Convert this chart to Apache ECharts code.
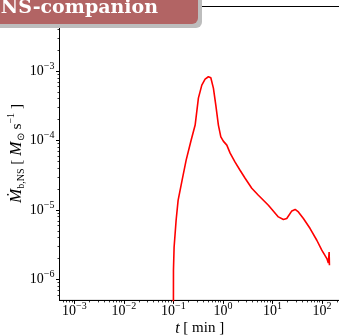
<!DOCTYPE html>
<html>
<head>
<meta charset="utf-8">
<script src="https://cdn.jsdelivr.net/npm/echarts@6/dist/echarts.min.js"></script>
<style>
  html, body { margin: 0; padding: 0; background: #fff; }
  #chart { width: 339px; height: 336px; }
</style>
</head>
<body>
<div id="chart"></div>
<script>
// time in minutes, accretion rate in Msun/s
const times = [0.1, 0.1003, 0.1033, 0.1135, 0.1245, 0.150, 0.181, 0.228, 0.275, 0.320, 0.375,
  0.437, 0.509, 0.570, 0.643, 0.719, 0.811, 0.908, 1.02, 1.20, 1.40, 1.75, 2.22, 2.81,
  3.83, 5.21, 8.30, 13.2, 16.7, 19.5, 24.7, 28.8, 33.5, 42.3, 57.8, 78.9, 99.5, 126,
  135, 140, 142]
const rates = [2e-7, 1.36e-6, 2.91e-6, 7.13e-6, 1.38e-5, 2.69e-5, 5.22e-5, 1.01e-4, 1.67e-4,
  4.08e-4, 6.28e-4, 7.67e-4, 8.28e-4, 8.0e-4, 5.69e-4, 3.24e-4, 1.67e-4, 1.13e-4, 9.8e-5,
  8.59e-5, 6.58e-5, 4.93e-5, 3.74e-5, 2.87e-5, 2.06e-5, 1.63e-5, 1.17e-5, 7.96e-6, 7.30e-6,
  7.55e-6, 9.71e-6, 1.02e-5, 9.39e-6, 7.55e-6, 5.41e-6, 3.67e-6, 2.64e-6, 2.0e-6, 1.73e-6,
  2.49e-6, 1.60e-6]

const xExps = [-3, -2, -1, 0, 1, 2]
const yExps = [-6, -5, -4, -3]
const xRange = [5e-4, 230]
const yRange = [5e-7, 8.5e-3]

const minorTicks = (exps, range) => {
  const out = []
  for (let e = exps[0] - 1; e <= exps[exps.length - 1]; e++) {
    for (let k = 2; k <= 9; k++) {
      const v = k * Math.pow(10, e)
      if (v > range[0] && v < range[1]) out.push(v)
    }
  }
  return out
}

const serif = 'Liberation Serif'
const supLabel = (v) => '{b|10}{sup|' + String(Math.round(Math.log10(v))).replace('-', '\u2212') + '}'
const labelRich = {
  b: { fontSize: 14, lineHeight: 20, verticalAlign: 'middle', fontFamily: serif, color: '#000' },
  sup: { fontSize: 10, lineHeight: 10, verticalAlign: 'top', fontFamily: serif, color: '#000' },
}

const majorAxis = (exps, range) => ({
  type: 'log',
  min: range[0],
  max: range[1],
  axisLine: { show: true, onZero: false, lineStyle: { color: '#000', width: 1 } },
  axisTick: { show: true, inside: false, length: 3.5, customValues: exps.map((e) => Math.pow(10, e)), lineStyle: { color: '#000', width: 1 } },
  axisLabel: {
    customValues: exps.map((e) => Math.pow(10, e)),
    formatter: supLabel,
    fontFamily: serif,
    fontSize: 14,
    lineHeight: 20,
    color: '#000',
    rich: labelRich,
  },
  splitLine: { show: false },
  minorTick: { show: false },
})

const minorAxis = (exps, range, position) => ({
  type: 'log',
  min: range[0],
  max: range[1],
  position,
  axisLine: { show: false, onZero: false },
  axisTick: { show: true, length: 2, customValues: minorTicks(exps, range), lineStyle: { color: '#000', width: 0.8 } },
  axisLabel: { show: false },
  splitLine: { show: false },
})

const chart = echarts.init(document.getElementById('chart'), null, { renderer: 'canvas' })

const xMain = majorAxis(xExps, xRange)
xMain.position = 'bottom'
xMain.axisLabel.margin = 1
xMain.name = '{it|t} [ min ]'
xMain.nameLocation = 'middle'
xMain.nameGap = 20
xMain.nameMoveOverlap = false
xMain.nameTextStyle = {
  fontFamily: serif, fontSize: 15, color: '#000', lineHeight: 16,
  rich: { it: { fontStyle: 'italic', fontFamily: serif, fontSize: 16, color: '#000', lineHeight: 16 } },
}

const yMain = majorAxis(yExps, yRange)
yMain.position = 'left'
yMain.axisLabel.margin = 5
yMain.name = '{it|\u1E40}{sub|b,NS} [ {it|M}{sub|\u2299} s{sup|\u22121} ]'
yMain.nameLocation = 'middle'
yMain.nameRotate = 90
yMain.nameGap = 33
yMain.nameMoveOverlap = false
yMain.nameTextStyle = {
  fontFamily: serif, fontSize: 15.5, color: '#000', lineHeight: 20,
  rich: {
    it: { fontStyle: 'italic', fontFamily: serif, fontSize: 17, color: '#000' },
    sub: { fontSize: 10, lineHeight: 10, verticalAlign: 'bottom', fontFamily: serif, color: '#000' },
    sup: { fontSize: 10, lineHeight: 10, verticalAlign: 'top', fontFamily: serif, color: '#000' },
  },
}

const option = {
  animation: false,
  backgroundColor: '#fff',
  grid: {
    left: 59.5,
    top: 6.5,
    width: 280.3,
    height: 293.9,
    show: true,
    borderColor: '#000',
    borderWidth: 1,
    backgroundColor: 'transparent',
    containLabel: false,
    outerBoundsMode: 'none',
  },
  xAxis: [xMain, minorAxis(xExps, xRange, 'bottom')],
  yAxis: [yMain, minorAxis(yExps, yRange, 'left')],
  series: [
    {
      name: 'rate',
      type: 'line',
      xAxisIndex: 0,
      yAxisIndex: 0,
      showSymbol: false,
      clip: true,
      data: times.map((t, i) => [t, rates[i]]),
      lineStyle: { color: '#ff0000', width: 1.6 },
      itemStyle: { color: '#ff0000' },
    },
  ],
  graphic: [
    {
      type: 'rect',
      z: 100,
      shape: { x: -20, y: -20, width: 222, height: 48, r: 6 },
      style: { fill: '#bdbdbd' },
    },
    {
      type: 'rect',
      z: 101,
      shape: { x: -20, y: -20, width: 218, height: 44, r: 6 },
      style: { fill: '#b26464' },
    },
    {
      type: 'text',
      z: 102,
      x: 158,
      y: 8,
      style: {
        text: 'NS-companion',
        fill: '#fff',
        font: 'bold 19px "DejaVu Serif"',
        align: 'right',
        verticalAlign: 'middle',
      },
    },
  ],
}

chart.setOption(option)
</script>
</body>
</html>
